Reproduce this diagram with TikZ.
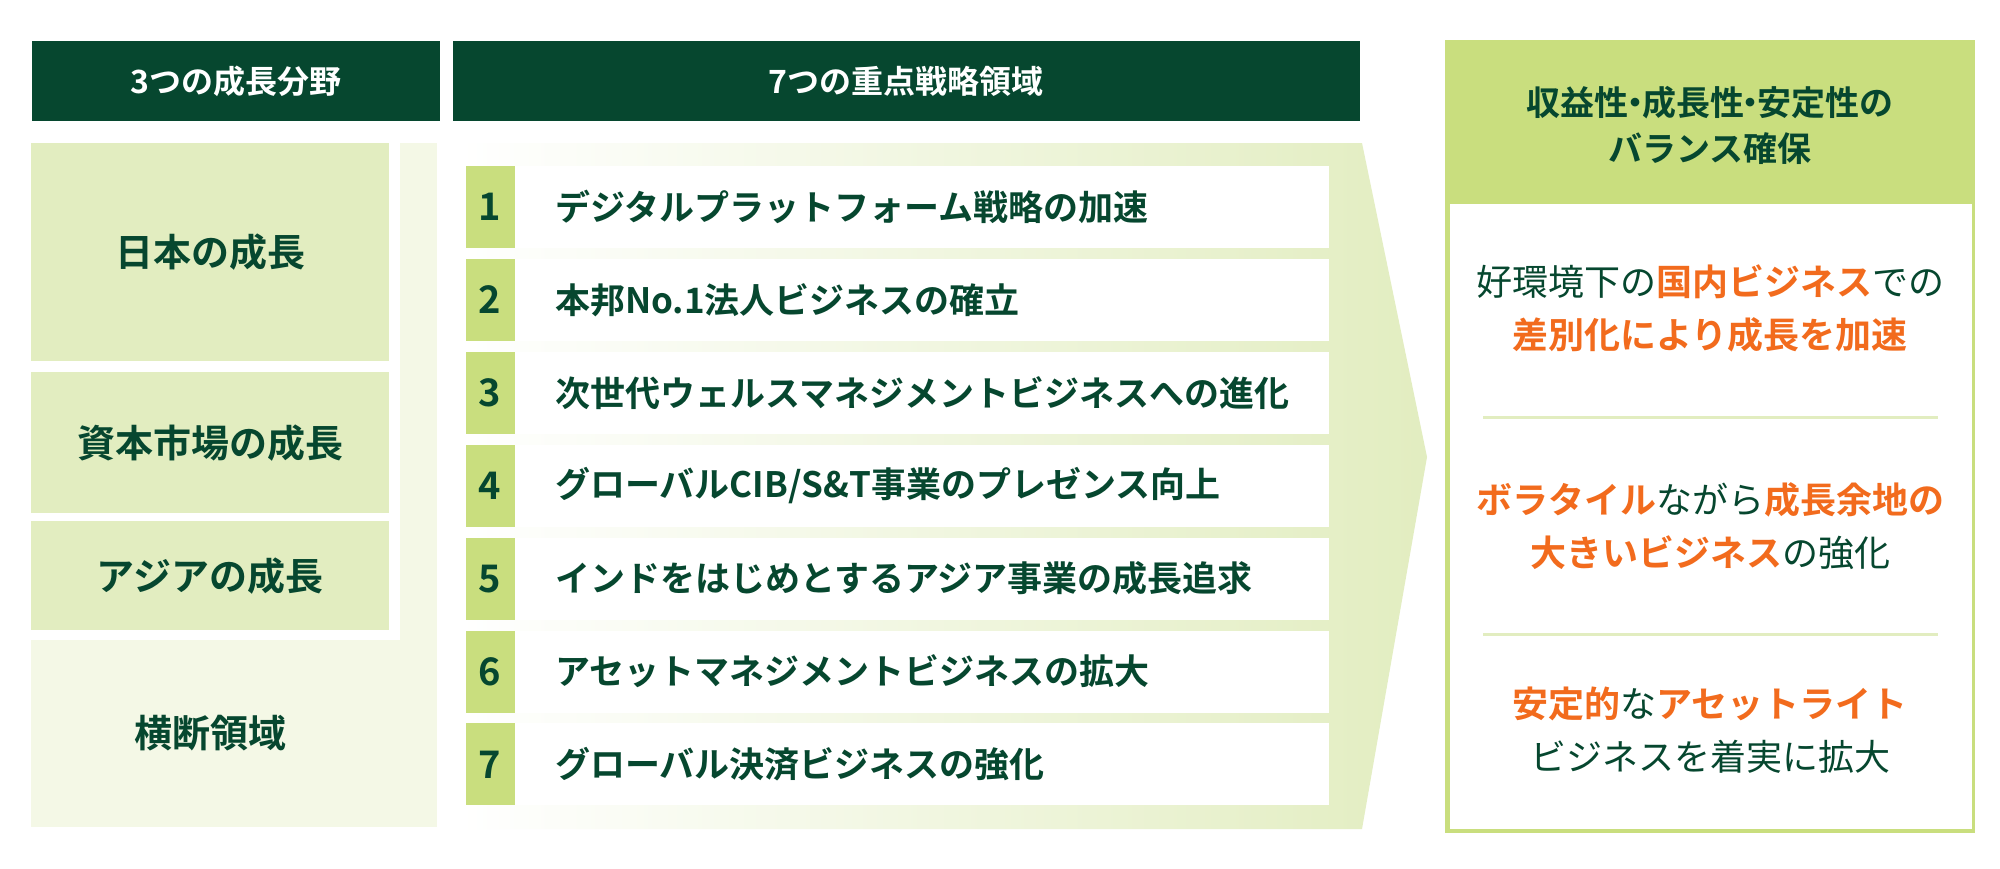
\documentclass[tikz,border=0pt]{standalone}
\usepackage{fontspec}
\setmainfont{Noto Sans CJK JP}[BoldFont={Noto Sans CJK JP Bold}]
\begin{document}
\begin{tikzpicture}[x=0.5pt,y=-0.5pt,
  hdtext/.style={text=white,font=\bfseries\fontsize{16}{18}\selectfont},
  lefttext/.style={text=dkg,font=\bfseries\fontsize{19}{22}\selectfont},
  numtext/.style={text=dkg,font=\bfseries\fontsize{19}{20}\selectfont},
  itemtext/.style={text=dkg,font=\bfseries\fontsize{17.5}{20}\selectfont,anchor=west},
  rtext/.style={text=dkg,font=\fontsize{18}{26.5}\selectfont,align=center}]
\definecolor{dkg}{HTML}{06472F}
\definecolor{org}{HTML}{F26B1D}
\definecolor{lg}{HTML}{C9DE7E}
\definecolor{pg}{HTML}{E2EDC0}
\definecolor{ppg}{HTML}{F4F8E6}
\newcommand{\ob}[1]{\textcolor{org}{\bfseries #1}}
\useasboundingbox (0,0) rectangle (2000,868);
\fill[white] (0,0) rectangle (2000,868);
% headers
\fill[dkg] (32,41) rectangle (440,121);
\node[hdtext] (h1) at (236,81) {3つの成長分野};
\fill[dkg] (453,41) rectangle (1360,121);
\node[hdtext] (h2) at (906,81) {7つの重点戦略領域};
% left column
\fill[ppg] (400,143) rectangle (437,827);
\fill[ppg] (31,640) rectangle (437,827);
\fill[pg] (31,143) rectangle (389,361);
\fill[pg] (31,372) rectangle (389,513);
\fill[pg] (31,521) rectangle (389,630);
\node[lefttext] (l1) at (210,252) {日本の成長};
\node[lefttext] (l2) at (210,443) {資本市場の成長};
\node[lefttext] (l3) at (210,576) {アジアの成長};
\node[lefttext] (l4) at (210,733) {横断領域};
% chevron
\shade[left color=white,right color=pg] (460,143) -- (1362,143) -- (1427,457) -- (1362,829) -- (460,829) -- cycle;
% items
\foreach \i/\t in {1/{デジタルプラットフォーム戦略の加速},2/{本邦No.1法人ビジネスの確立},3/{次世代ウェルスマネジメントビジネスへの進化},4/{グローバルCIB/S\&T事業のプレゼンス向上},5/{インドをはじめとするアジア事業の成長追求},6/{アセットマネジメントビジネスの拡大},7/{グローバル決済ビジネスの強化}}{
  \pgfmathsetmacro{\yy}{166+(\i-1)*92.9}
  \fill[lg] (466,\yy) rectangle (515,\yy+82);
  \fill[white] (515,\yy) rectangle (1329,\yy+82);
  \node[numtext] (n\i) at (490,\yy+41) {\i};
  \node[itemtext] (t\i) at (548,\yy+41) {\t};
}
% right box
\fill[lg] (1445,40) rectangle (1975,833);
\fill[white] (1450,204) rectangle (1972,829);
\node[rtext,font=\bfseries\fontsize{17}{23}\selectfont] (rh) at (1710,125) {収益性\kern-0.3em・\kern-0.3em成長性\kern-0.3em・\kern-0.3em安定性の\\バランス確保};
\draw[pg,line width=1.5pt] (1483,417) -- (1938,417);
\draw[pg,line width=1.5pt] (1483,634) -- (1938,634);
\node[rtext] (r1) at (1710,308) {好環境下の\ob{国内ビジネス}での\\\ob{差別化により成長を加速}};
\node[rtext] (r2) at (1710,526) {\ob{ボラタイル}ながら\ob{成長余地の}\\\ob{大きいビジネス}の強化};
\node[rtext] (r3) at (1710,730) {\ob{安定的}な\ob{アセットライト}\\ビジネスを着実に拡大};
\end{tikzpicture}
\end{document}
